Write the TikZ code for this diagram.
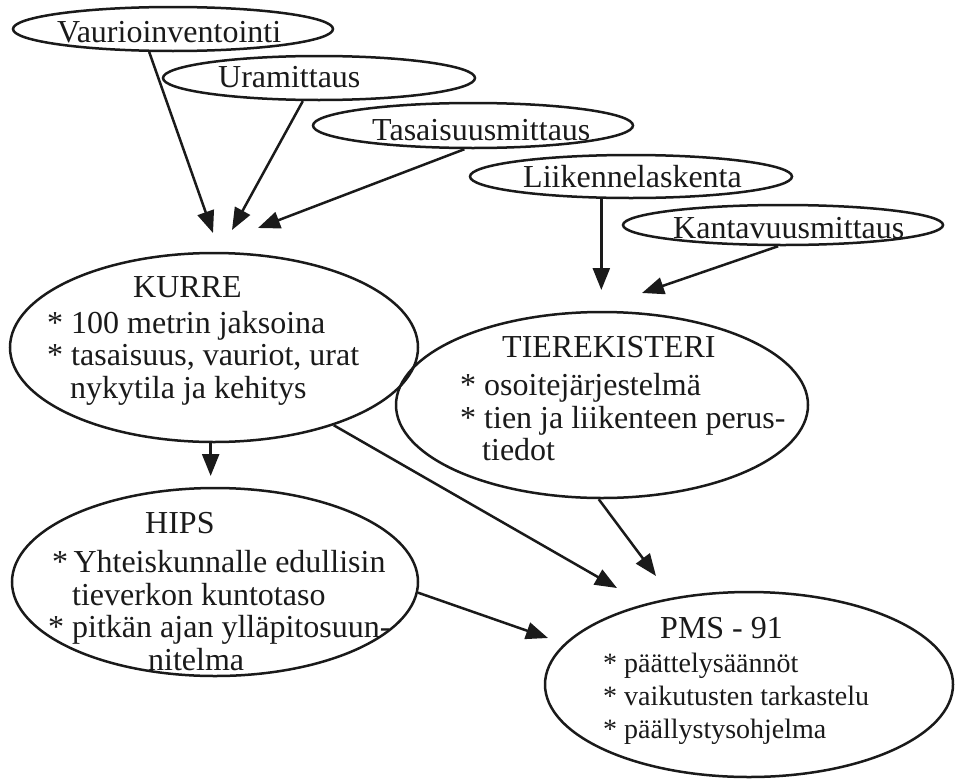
\documentclass[tikz,border=0pt]{standalone}
\usepackage{fontspec}
\setmainfont{Liberation Serif}
\usetikzlibrary{arrows.meta,shapes.geometric}
\definecolor{ink}{HTML}{1A1A1A}
\begin{document}
\begin{tikzpicture}[x=1pt,y=-1pt,
  ell/.style={draw=ink,line width=2.5pt,ellipse,inner sep=0pt},
  lbl/.style={anchor=base west,inner sep=0pt,text=ink,font=\fontsize{32}{36}\selectfont},
  sml/.style={anchor=base west,inner sep=0pt,text=ink,font=\fontsize{28}{32}\selectfont},
  arr/.style={draw=ink,line width=2.5pt,-{Triangle[length=22pt,width=17pt]}}]
\fill[white] (0,0) rectangle (957,779);
\useasboundingbox (0,0) rectangle (957,779);

% small source ellipses
\node[ell,minimum width=320pt,minimum height=44pt] (vau) at (173,29) {};
\node[ell,minimum width=312pt,minimum height=44pt] (ura) at (319,78) {};
\node[ell,minimum width=320pt,minimum height=45pt] (tas) at (473,125.5) {};
\node[ell,minimum width=322pt,minimum height=43pt] (lii) at (631,176.5) {};
\node[ell,minimum width=320pt,minimum height=40pt] (kan) at (783,225) {};

\node[lbl] (vauT) at (57,42) {Vaurioinventointi};
\node[lbl] (uraT) at (218,87) {Uramittaus};
\node[lbl] (tasT) at (372,140) {Tasaisuusmittaus};
\node[lbl] (liiT) at (523,187) {Liikennelaskenta};
\node[lbl] (kanT) at (673,238) {Kantavuusmittaus};

% big ellipses
\node[ell,minimum width=408pt,minimum height=189pt] (kurre) at (214,347.5) {};
\node[ell,minimum width=412pt,minimum height=186pt] (tier) at (602,405) {};
\node[ell,minimum width=406pt,minimum height=188pt] (hips) at (215,582) {};
\node[ell,minimum width=408pt,minimum height=185pt] (pms) at (749,684.5) {};

% KURRE text
\node[lbl] (kurreT) at (133,297) {KURRE};
\node[lbl] (kurre1) at (47,333) {* 100 metrin jaksoina};
\node[lbl] (kurre2) at (47,365) {* tasaisuus, vauriot, urat};
\node[lbl] (kurre3) at (70,398) {nykytila ja kehitys};

% TIEREKISTERI text
\node[lbl] (tierT) at (502,357) {TIEREKISTERI};
\node[lbl] (tier1) at (460,395) {* osoitejärjestelmä};
\node[lbl] (tier2) at (460,428) {* tien ja liikenteen perus-};
\node[lbl] (tier3) at (482,460) {tiedot};

% HIPS text
\node[lbl] (hipsT) at (145,533) {HIPS};
\node[lbl] (hips1) at (52,572) {*\,Yhteiskunnalle edullisin};
\node[lbl] (hips2) at (72,605) {tieverkon kuntotaso};
\node[lbl] (hips3) at (48,637) {* pitkän ajan ylläpitosuun-};
\node[lbl] (hips4) at (148,670) {nitelma};

% PMS text
\node[lbl] (pmsT) at (660,638) {PMS - 91};
\node[sml] (pms1) at (603,672) {* päättelysäännöt};
\node[sml] (pms2) at (603,705) {* vaikutusten tarkastelu};
\node[sml] (pms3) at (603,738) {* päällystysohjelma};

% arrow tips (free ends)
\coordinate (tVK) at (213,233);
\coordinate (tUK) at (232,230);
\coordinate (tTK) at (258,228);
\coordinate (tLT) at (603,290);
\coordinate (tKT) at (642,293);
\coordinate (tKH) at (211,476);
\coordinate (tKP) at (617,588);
\coordinate (tTP) at (656,576);
\coordinate (tHP) at (548,638);

\draw[arr] (vau.224) -- (tVK);
\draw[arr] (ura.235) -- (tUK);
\draw[arr] (tas.250) -- (tTK);
\draw[arr] (lii.217.5) -- (lii.217.5 |- tLT);
\draw[arr] (kan.257) -- (tKT);
\draw[arr] (kurre.268) -- (kurre.268 |- tKH);
\draw[arr] (kurre.327) -- (tKP);
\draw[arr] (tier.268) -- (tTP);
\draw[arr] (hips.357) -- (tHP);
\end{tikzpicture}
\end{document}
